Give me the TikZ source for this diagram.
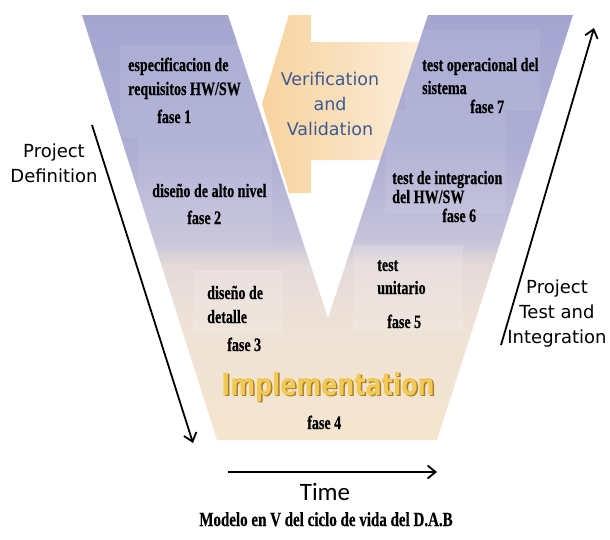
\documentclass[tikz,border=0pt]{standalone}
\usepackage{fontspec}
\usetikzlibrary{arrows.meta}
\newfontfamily\labelfont{DejaVu Sans}
\newfontfamily\phasefont[FakeBold=0.6]{Liberation Serif Bold}
\newfontfamily\implfont{DejaVu Sans Bold}
\newfontfamily\timefont{Carlito}
% condensed setting for the phase texts
\newcommand{\narrowtext}[1]{\scalebox{0.74}[1]{#1}}
\newcommand{\impltext}[1]{\scalebox{0.78}[1]{#1}}

\definecolor{vbot}{HTML}{F5E6CF}
\definecolor{vlow}{HTML}{EFE2D6}
\definecolor{vmid}{HTML}{E4DAD9}
\definecolor{vmidlav}{HTML}{C6C3DA}
\definecolor{vlav}{HTML}{AEAED4}
\definecolor{vtop}{HTML}{A5A6D0}
\definecolor{vvblue}{HTML}{3C5A96}
\definecolor{arrowdark}{HTML}{F7D39E}
\definecolor{arrowlight}{HTML}{FCEFDD}
\definecolor{implface}{HTML}{F2C955}
\definecolor{implshade}{HTML}{A97F25}

% vertical fill of the V: beige at the bottom, lavender at the top
\pgfdeclareverticalshading{vfill}{100bp}{%
  color(0bp)=(vbot); color(25bp)=(vbot); color(37.9bp)=(vlow);
  color(45.6bp)=(vmid); color(48.5bp)=(vmidlav); color(59.1bp)=(vlav);
  color(75bp)=(vtop); color(100bp)=(vtop)}

\tikzset{
  phase/.style={font=\phasefont\fontsize{19}{23}\selectfont, anchor=base west, inner sep=0pt},
  sidelabel/.style={font=\labelfont\fontsize{18}{24}\selectfont, anchor=base, inner sep=0pt},
  vvlabel/.style={font=\labelfont\fontsize{17.5}{24}\selectfont, anchor=base, inner sep=0pt, text=vvblue},
  flow/.style={line width=1.8pt, -{Straight Barb[length=8pt,width=13pt,line width=1.8pt]}},
  lightbox/.style={fill=white, fill opacity=0.08, draw=none},
  beigebox/.style={fill=white, fill opacity=0.16, draw=none}
}

\begin{document}
\begin{tikzpicture}[x=1pt,y=-1pt]
\useasboundingbox[fill=white] (0,0) rectangle (610,539);

% Verification and Validation arrow, partly behind the right arm
\path[left color=arrowdark, right color=arrowlight]
  (262,104) -- (289,15) -- (311,15) -- (311,42) -- (432,42) -- (432,160)
  -- (311,160) -- (311,193) -- (289,193) -- cycle;

% the V
\path[shading=vfill]
  (82,15) -- (228,15) -- (328,318) -- (428,15) -- (573,15) -- (437,440) -- (217,440) -- cycle;

% lighter panels behind the phase texts
\begin{scope}
  \clip (82,15) -- (228,15) -- (328,318) -- (428,15) -- (573,15) -- (437,440) -- (217,440) -- cycle;
  \fill[lightbox] (120,45) rectangle (262,137);
  \fill[lightbox] (138,137) rectangle (272,242);
  \fill[lightbox] (405,30) rectangle (540,110);
  \fill[lightbox] (385,110) rectangle (505,213);
  \fill[beigebox] (193,270) rectangle (283,333);
  \fill[beigebox] (353,245) rectangle (463,330);
\end{scope}

% phase texts
\node[phase] (p1a) at (128,71) {\narrowtext{especificacion de}};
\node[phase] (p1b) at (128,95) {\narrowtext{requisitos HW/SW}};
\node[phase] (p1c) at (157,123) {\narrowtext{fase 1}};
\node[phase] (p2a) at (152,197) {\narrowtext{diseño de alto nivel}};
\node[phase] (p2b) at (187,224) {\narrowtext{fase 2}};
\node[phase] (p3a) at (207,299) {\narrowtext{diseño de}};
\node[phase] (p3b) at (207,323) {\narrowtext{detalle}};
\node[phase] (p3c) at (227,351) {\narrowtext{fase 3}};
\node[phase] (p4) at (307,429) {\narrowtext{fase 4}};
\node[phase] (p5a) at (377,271) {\narrowtext{test}};
\node[phase] (p5b) at (377,294) {\narrowtext{unitario}};
\node[phase] (p5c) at (387,328) {\narrowtext{fase 5}};
\node[phase] (p6a) at (392,184) {\narrowtext{test de integracion}};
\node[phase] (p6b) at (392,203) {\narrowtext{del HW/SW}};
\node[phase] (p6c) at (442,222) {\narrowtext{fase 6}};
\node[phase] (p7a) at (422,71) {\narrowtext{test operacional del}};
\node[phase] (p7b) at (422,94) {\narrowtext{sistema}};
\node[phase] (p7c) at (470,113) {\narrowtext{fase 7}};

% Verification and Validation
\node[vvlabel] (vv1) at (330,85) {Verification};
\node[vvlabel] (vv2) at (330,110) {and};
\node[vvlabel] (vv3) at (330,135) {Validation};

% Implementation with its darker shadow
\node[font=\implfont\fontsize{30.5}{34}\selectfont, text=implshade, anchor=base, inner sep=0pt]
  (implshadow) at (329.5,396.5) {\impltext{Implementation}};
\node[font=\implfont\fontsize{30.5}{34}\selectfont, text=implface, anchor=base, inner sep=0pt]
  (impl) at (328,395) {\impltext{Implementation}};

% side arrows and labels
\coordinate (pdstart) at (92,125);
\coordinate (pdend) at (193,443);
\draw[flow] (pdstart) -- (pdend);
\node[sidelabel] (pd1) at (54,157) {Project};
\node[sidelabel] (pd2) at (54,182) {Definition};

\coordinate (ptstart) at (501,345);
\coordinate (ptend) at (594,28);
\draw[flow] (ptstart) -- (ptend);
\node[sidelabel] (pt1) at (557,293) {Project};
\node[sidelabel] (pt2) at (557,318) {Test and};
\node[sidelabel] (pt3) at (557,343) {Integration};

% time axis
\coordinate (tstart) at (228,472);
\coordinate (tend) at (437,472);
\draw[flow] (tstart) -- (tend);
\node[font=\timefont\fontsize{25}{28}\selectfont, anchor=base, inner sep=0pt] (time) at (325,500) {Time};

% caption
\node[font=\phasefont\fontsize{20}{24}\selectfont, anchor=base, inner sep=0pt] (caption) at (326,526)
  {\scalebox{0.75}[1]{Modelo en V del ciclo de vida del D.A.B}};
\end{tikzpicture}
\end{document}
